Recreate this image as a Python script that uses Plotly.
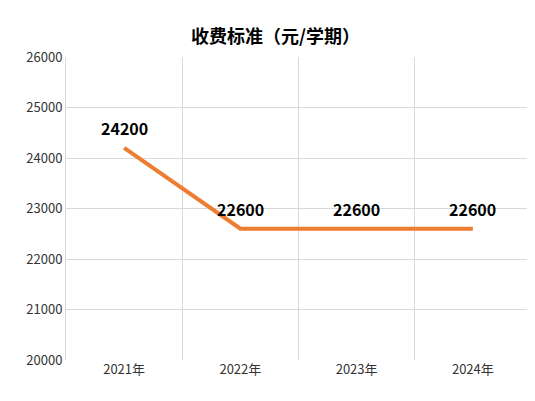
import plotly.graph_objects as go

years = ["2021年", "2022年", "2023年", "2024年"]
fees = [24200, 22600, 22600, 22600]
y_ticks = [20000, 21000, 22000, 23000, 24000, 25000, 26000]

fig = go.Figure(go.Scatter(
    x=list(range(len(years))), y=fees, mode="lines",
    line=dict(color="#ED7D31", width=4), cliponaxis=False))

for i, v in enumerate(fees):
    fig.add_annotation(x=i, y=v, text="<b>%d</b>" % v, showarrow=False, yshift=20,
                       font=dict(family="Noto Sans CJK SC", size=16, color="black"))

fig.update_layout(
    width=535, height=401, paper_bgcolor="white", plot_bgcolor="white",
    margin=dict(l=58, r=12, t=49, b=49), showlegend=False,
    title=dict(text="<b>收费标准（元/学期）</b>", x=0.5, xanchor="center", y=0.945,
               font=dict(family="Noto Sans CJK SC", size=18, color="black")),
    font=dict(family="Noto Sans CJK SC", size=13, color="#333"))
fig.update_xaxes(range=[-0.5, 3.5], tickvals=list(range(len(years))), ticktext=years,
                 showgrid=False, zeroline=False, showline=False, ticks="", ticklen=6,
                 minor=dict(tick0=0.5, dtick=1, showgrid=True, gridcolor="#D9D9D9"))
fig.update_yaxes(range=[20000, 26000], tickvals=y_ticks, tickformat="d", showgrid=True,
                 gridcolor="#D9D9D9", zeroline=False, showline=True, linecolor="#D9D9D9",
                 ticks="")
fig.write_html("out.html")
